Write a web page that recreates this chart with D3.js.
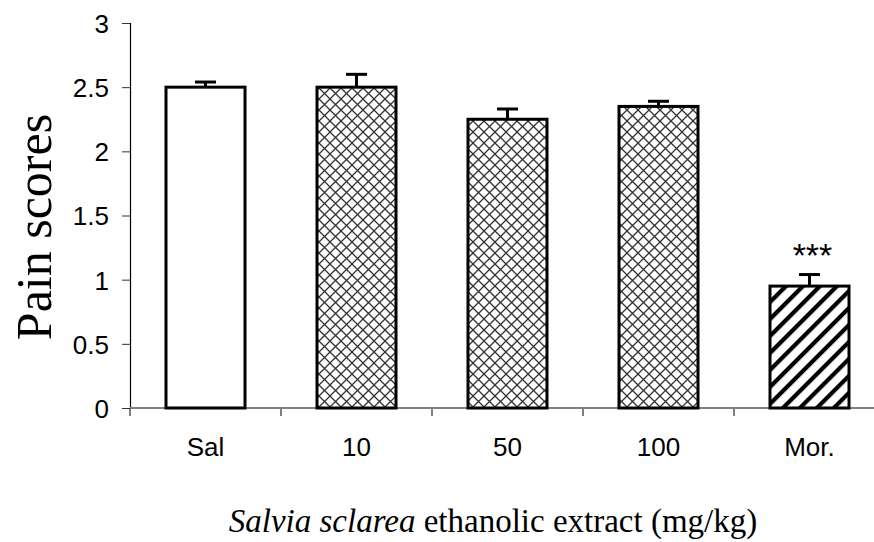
<!DOCTYPE html>
<html>
<head>
<meta charset="utf-8">
<script src="https://cdn.jsdelivr.net/npm/d3@7"></script>
<style>
  body { margin: 0; background: #fff; }
  .axis-text { font-family: "Liberation Sans", Arial, sans-serif; font-size: 26px; fill: #000; }
</style>
</head>
<body>
<svg id="chart" width="874" height="542"></svg>
<script>
// data
const groups = ['Sal', '10', '50', '100', 'Mor.']
const means = [2.5, 2.5, 2.25, 2.35, 0.95]
const errors = [0.04, 0.1, 0.08, 0.04, 0.09]
const fills = ['white', 'url(#cross)', 'url(#cross)', 'url(#cross)', 'url(#diag)']
const marks = ['', '', '', '', '***']
const yTicks = [0, 0.5, 1, 1.5, 2, 2.5, 3]

const svg = d3.select('#chart')
const plotLeft = 130, plotRight = 885, plotTop = 23, plotBottom = 408

// patterns
const defs = svg.append('defs')
const cross = defs.append('pattern')
  .attr('id', 'cross')
  .attr('patternUnits', 'userSpaceOnUse')
  .attr('width', 11).attr('height', 11)
cross.append('rect').attr('width', 11).attr('height', 11).attr('fill', 'white')
cross.append('path')
  .attr('d', 'M0,0L11,11M11,0L0,11')
  .attr('stroke', '#333').attr('stroke-width', 1.3)

const diag = defs.append('pattern')
  .attr('id', 'diag')
  .attr('patternUnits', 'userSpaceOnUse')
  .attr('width', 12).attr('height', 12)
  .attr('patternTransform', 'rotate(45)')
diag.append('rect').attr('width', 12).attr('height', 12).attr('fill', 'white')
diag.append('rect').attr('x', 0).attr('width', 4.2).attr('height', 12).attr('fill', '#000')

// scales
const x = d3.scaleBand().domain(groups).range([plotLeft, plotRight]).paddingInner(0).paddingOuter(0)
const y = d3.scaleLinear().domain([0, 3]).range([plotBottom, plotTop])
const barW = 79

// y axis
const yAxisG = svg.append('g')
  .attr('transform', `translate(${plotLeft},0)`)
  .call(d3.axisLeft(y).tickValues(yTicks).tickSize(8).tickPadding(13).tickFormat(d3.format('')))
yAxisG.select('.domain').attr('stroke', '#000').attr('stroke-width', 1.2)
yAxisG.selectAll('.tick line').attr('stroke', '#333')
yAxisG.selectAll('text').attr('class', 'axis-text').attr('dy', '0.36em')
yAxisG.attr('font-family', null).attr('font-size', null)

// x axis line with ticks between categories
const xAxisG = svg.append('g')
svg.append('line')
  .attr('x1', plotLeft).attr('x2', 874)
  .attr('y1', plotBottom).attr('y2', plotBottom)
  .attr('stroke', '#808080').attr('stroke-width', 2)
xAxisG.selectAll('line.sep')
  .data(groups)
  .enter()
  .append('line')
  .attr('x1', (d) => x(d)).attr('x2', (d) => x(d))
  .attr('y1', plotBottom).attr('y2', plotBottom + 8)
  .attr('stroke', '#000').attr('stroke-width', 1)

xAxisG.selectAll('text')
  .data(groups)
  .enter()
  .append('text')
  .attr('class', 'axis-text')
  .attr('x', (d) => x(d) + x.bandwidth() / 2)
  .attr('y', 456)
  .attr('text-anchor', 'middle')
  .text((d) => d)

// bars
const cx = (i) => x(groups[i]) + x.bandwidth() / 2
svg.selectAll('rect.bar')
  .data(means)
  .enter()
  .append('rect')
  .attr('class', 'bar')
  .attr('x', (d, i) => cx(i) - barW / 2)
  .attr('y', (d) => y(d))
  .attr('width', barW)
  .attr('height', (d) => plotBottom - y(d))
  .attr('fill', (d, i) => fills[i])
  .attr('stroke', '#000')
  .attr('stroke-width', 3)

// error bars
const errG = svg.append('g').attr('stroke', '#000').attr('stroke-width', 3)
means.forEach((m, i) => {
  errG.append('line')
    .attr('x1', cx(i)).attr('x2', cx(i))
    .attr('y1', y(m)).attr('y2', y(m + errors[i]))
  errG.append('line')
    .attr('x1', cx(i) - 10.5).attr('x2', cx(i) + 10.5)
    .attr('y1', y(m + errors[i])).attr('y2', y(m + errors[i]))
})

// significance marks
svg.selectAll('text.sig')
  .data(marks)
  .enter()
  .append('text')
  .attr('class', 'sig')
  .attr('x', (d, i) => cx(i) + 3)
  .attr('y', (d, i) => y(means[i] + errors[i]) - 8)
  .attr('text-anchor', 'middle')
  .attr('font-family', 'Liberation Sans, Arial, sans-serif')
  .attr('font-size', 34)
  .text((d) => d)

// axis titles
svg.append('text')
  .attr('transform', 'translate(51,227) rotate(-90)')
  .attr('text-anchor', 'middle')
  .attr('font-family', 'Liberation Serif, Times New Roman, serif')
  .attr('font-size', 50)
  .text('Pain scores')

const xt = svg.append('text')
  .attr('x', 493).attr('y', 532)
  .attr('text-anchor', 'middle')
  .attr('font-family', 'Liberation Serif, Times New Roman, serif')
  .attr('font-size', 33)
xt.append('tspan').attr('font-style', 'italic').text('Salvia sclarea')
xt.append('tspan').text(' ethanolic extract (mg/kg)')
</script>
</body>
</html>
